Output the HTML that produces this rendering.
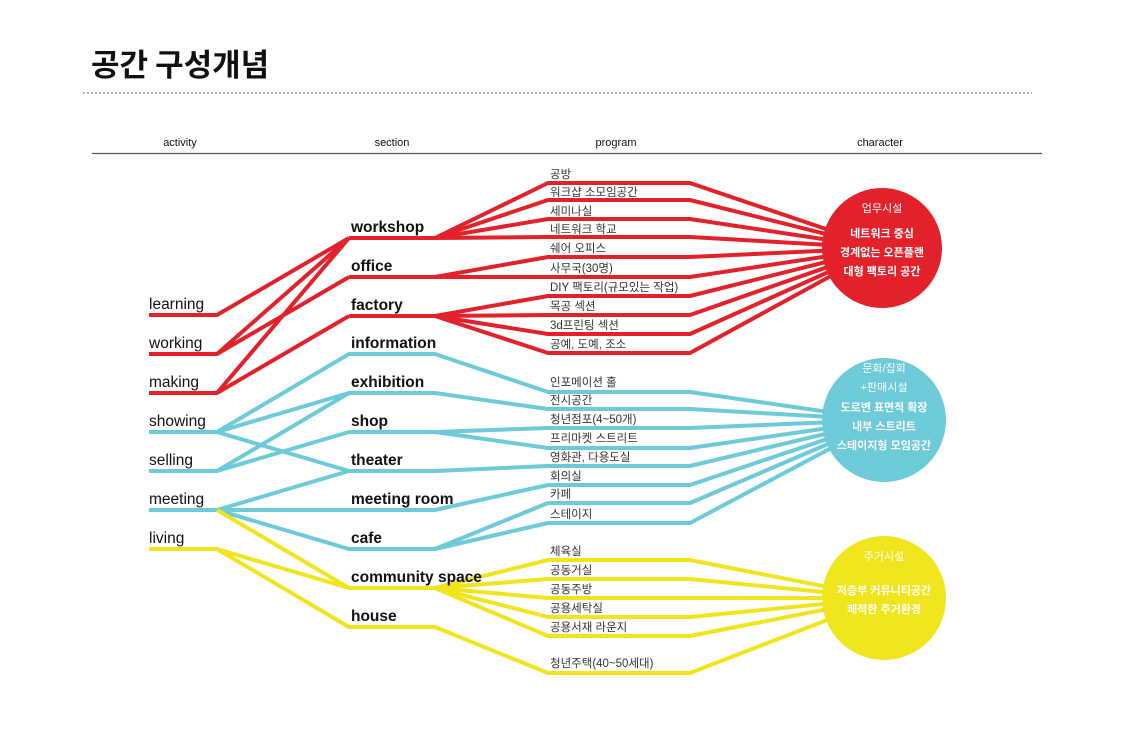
<!DOCTYPE html>
<html><head><meta charset="utf-8"><style>
html,body{margin:0;padding:0;background:#fff;}
svg{display:block;}
</style></head><body>
<svg width="1134" height="756" viewBox="0 0 1134 756" xmlns="http://www.w3.org/2000/svg" font-family="'Liberation Sans','Noto Sans CJK KR',sans-serif">
<text x="91" y="76" font-size="31" font-weight="bold" fill="#111" font-family="'Noto Sans CJK KR',sans-serif">공간 구성개념</text>
<line x1="83" y1="93" x2="1032" y2="93" stroke="#888" stroke-width="1.3" stroke-dasharray="2,2"/>
<g font-size="11" fill="#111" text-anchor="middle">
<text x="180" y="146">activity</text><text x="392" y="146">section</text><text x="616" y="146">program</text><text x="880" y="146">character</text>
</g>
<line x1="92" y1="153.5" x2="1042" y2="153.5" stroke="#555" stroke-width="1.2"/>

<g fill="none" stroke-width="4" stroke-linejoin="round">
<g stroke="#e3212b">
<polyline points="149,315 217,315 349,238"/>
<polyline points="149,354 217,354 349,238"/>
<polyline points="217,354 349,277"/>
<polyline points="149,393 217,393 349,238"/>
<polyline points="217,393 349,316"/>
<line x1="349" y1="238" x2="435" y2="238"/>
<line x1="349" y1="277" x2="435" y2="277"/>
<line x1="349" y1="316" x2="435" y2="316"/>
<polyline points="435,238 548,183 690,183 882,248"/>
<polyline points="435,238 548,200 690,200 882,248"/>
<polyline points="435,238 548,219 690,219 882,248"/>
<polyline points="435,238 548,237 690,237 882,248"/>
<polyline points="435,277 548,257 690,257 882,248"/>
<polyline points="435,277 548,277 690,277 882,248"/>
<polyline points="435,316 548,296 690,296 882,248"/>
<polyline points="435,316 548,315 690,315 882,248"/>
<polyline points="435,316 548,334 690,334 882,248"/>
<polyline points="435,316 548,353 690,353 882,248"/>
</g>
<g stroke="#6ccad9">
<polyline points="149,432 217,432 349,354 435,354 548,392 690,392 884,420"/>
<polyline points="217,432 349,393"/>
<polyline points="217,432 349,471"/>
<polyline points="149,471 217,471 349,393 435,393 548,409 690,409 884,420"/>
<polyline points="217,471 349,432 435,432 548,428 690,428 884,420"/>
<polyline points="435,432 548,448 690,448 884,420"/>
<polyline points="149,510 217,510 349,471 435,471 548,466 690,466 884,420"/>
<polyline points="217,510 349,510 435,510 548,485 690,485 884,420"/>
<polyline points="217,510 349,549 435,549 548,503 690,503 884,420"/>
<polyline points="435,549 548,523 690,523 884,420"/>
</g>
<g stroke="#f0e51c">
<polyline points="217,510 349,588"/>
<polyline points="149,549 217,549 349,588 435,588"/>
<polyline points="217,549 349,627 435,627 548,673 690,673 884,598"/>
<polyline points="435,588 548,560 690,560 884,598"/>
<polyline points="435,588 548,579 690,579 884,598"/>
<polyline points="435,588 548,598 690,598 884,598"/>
<polyline points="435,588 548,617 690,617 884,598"/>
<polyline points="435,588 548,636 690,636 884,598"/>
</g>
</g>

<circle cx="882" cy="248" r="60" fill="#e3212b"/>
<circle cx="884" cy="420" r="62" fill="#6ccad9"/>
<circle cx="884" cy="598" r="62" fill="#f0e51c"/>

<g font-size="15.5" fill="#111">
<text x="149" y="309">learning</text><text x="149" y="348">working</text><text x="149" y="387">making</text>
<text x="149" y="426">showing</text><text x="149" y="465">selling</text><text x="149" y="504">meeting</text><text x="149" y="543">living</text>
</g>
<g font-size="15.5" font-weight="bold" fill="#111">
<text x="351" y="232">workshop</text><text x="351" y="271">office</text><text x="351" y="310">factory</text>
<text x="351" y="348">information</text><text x="351" y="387">exhibition</text><text x="351" y="426">shop</text>
<text x="351" y="465">theater</text><text x="351" y="504">meeting room</text><text x="351" y="543">cafe</text>
<text x="351" y="582">community space</text><text x="351" y="621">house</text>
</g>
<g font-size="11.5" fill="#333">
<text x="550" y="178">공방</text><text x="550" y="196">워크샵 소모임공간</text><text x="550" y="215">세미나실</text>
<text x="550" y="233">네트워크 학교</text><text x="550" y="252">쉐어 오피스</text><text x="550" y="272">사무국(30명)</text>
<text x="550" y="291">DIY 팩토리(규모있는 작업)</text><text x="550" y="310">목공 섹션</text><text x="550" y="329">3d프린팅 섹션</text>
<text x="550" y="348">공예, 도예, 조소</text>
<text x="550" y="386">인포메이션 홀</text><text x="550" y="404">전시공간</text><text x="550" y="423">청년점포(4~50개)</text>
<text x="550" y="442">프리마켓 스트리트</text><text x="550" y="461">영화관, 다용도실</text><text x="550" y="480">회의실</text>
<text x="550" y="498">카페</text><text x="550" y="518">스테이지</text>
<text x="550" y="555">체육실</text><text x="550" y="574">공동거실</text><text x="550" y="593">공동주방</text>
<text x="550" y="612">공용세탁실</text><text x="550" y="631">공용서재 라운지</text><text x="550" y="667">청년주택(40~50세대)</text>
</g>
<g fill="#fff" text-anchor="middle" font-size="11">
<text x="882" y="212">업무시설</text>
<text x="882" y="237" font-weight="bold">네트워크 중심</text>
<text x="882" y="256" font-weight="bold">경계없는 오픈플랜</text>
<text x="882" y="275" font-weight="bold">대형 팩토리 공간</text>
<text x="884" y="372">문화/집회</text>
<text x="884" y="391">+판매시설</text>
<text x="884" y="411" font-weight="bold">도로변 표면적 확장</text>
<text x="884" y="430" font-weight="bold">내부 스트리트</text>
<text x="884" y="449" font-weight="bold">스테이지형 모임공간</text>
<text x="884" y="560">주거시설</text>
<text x="884" y="594" font-weight="bold">저층부 커뮤니티공간</text>
<text x="884" y="613" font-weight="bold">쾌적한 주거환경</text>
</g>
</svg>
</body></html>
